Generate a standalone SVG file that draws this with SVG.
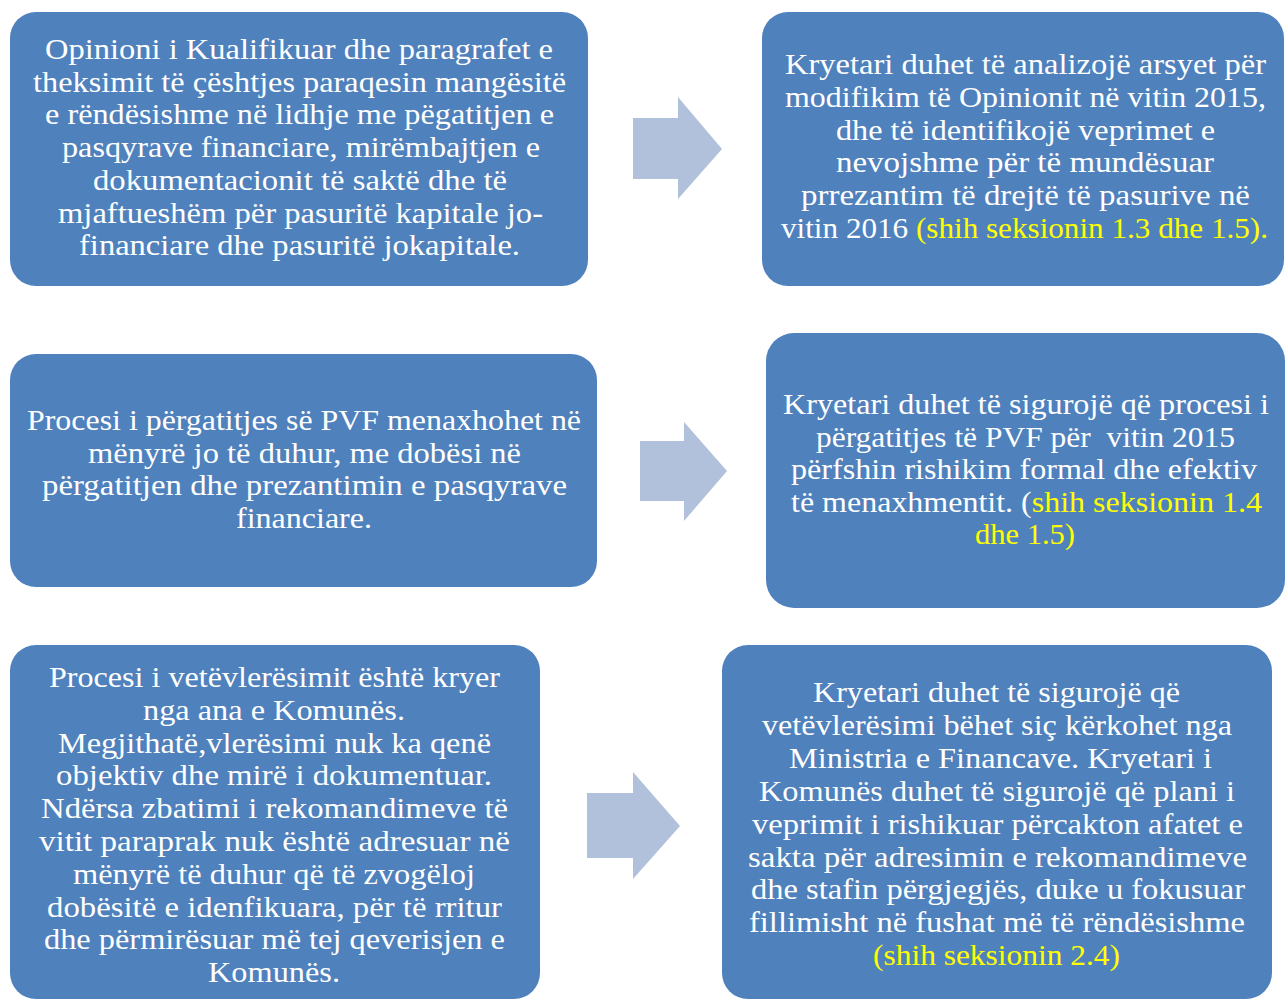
<svg xmlns="http://www.w3.org/2000/svg" width="1285" height="1000" viewBox="0 0 1285 1000">
<style>
.box{fill:#4F81BD}
.arrow{fill:#B1C1DC}
.t{font-family:"Liberation Serif","Times New Roman",serif;font-size:29px;fill:#FFFFFF}
.y{fill:#FFFF00}
.pre{white-space:pre}
</style>
<rect width="1285" height="1000" fill="#FFFFFF"/>
<g id="connectors">
<polygon class="arrow" points="633,118 678,118 678,97 722,149 678,199 678,179 633,179"/>
<polygon class="arrow" points="640,441 684,441 684,422 727,471 684,521 684,501 640,501"/>
<polygon class="arrow" points="587,793 633,793 633,772 680,826 633,879 633,858 587,858"/>
</g>
<g id="node1">
<rect class="box" x="10" y="12" width="578" height="274" rx="26"/>
<text class="t" x="45" y="59" textLength="508" lengthAdjust="spacingAndGlyphs">Opinioni i Kualifikuar dhe paragrafet e</text>
<text class="t" x="33" y="91.7" textLength="533" lengthAdjust="spacingAndGlyphs">theksimit të çështjes paraqesin mangësitë</text>
<text class="t" x="45" y="124.4" textLength="509" lengthAdjust="spacingAndGlyphs">e rëndësishme në lidhje me pëgatitjen e</text>
<text class="t" x="62" y="157.1" textLength="478" lengthAdjust="spacingAndGlyphs">pasqyrave financiare, mirëmbajtjen e</text>
<text class="t" x="93" y="189.8" textLength="414" lengthAdjust="spacingAndGlyphs">dokumentacionit të saktë dhe të</text>
<text class="t" x="58" y="222.5" textLength="485" lengthAdjust="spacingAndGlyphs">mjaftueshëm për pasuritë kapitale jo-</text>
<text class="t" x="79" y="255.2" textLength="441" lengthAdjust="spacingAndGlyphs">financiare dhe pasuritë jokapitale.</text>
</g>
<g id="node2">
<rect class="box" x="762" y="12" width="522" height="274" rx="26"/>
<text class="t" x="785" y="74" textLength="481" lengthAdjust="spacingAndGlyphs">Kryetari duhet të analizojë arsyet për</text>
<text class="t" x="785" y="106.8" textLength="481" lengthAdjust="spacingAndGlyphs">modifikim të Opinionit në vitin 2015,</text>
<text class="t" x="836" y="139.6" textLength="379" lengthAdjust="spacingAndGlyphs">dhe të identifikojë veprimet e</text>
<text class="t" x="836" y="172.4" textLength="378" lengthAdjust="spacingAndGlyphs">nevojshme për të mundësuar</text>
<text class="t" x="801" y="205.2" textLength="449" lengthAdjust="spacingAndGlyphs">prrezantim të drejtë të pasurive në</text>
<text class="t" x="781" y="238" textLength="487" lengthAdjust="spacingAndGlyphs">vitin 2016 <tspan class="y">(shih seksionin 1.3 dhe 1.5).</tspan></text>
</g>
<g id="node3">
<rect class="box" x="10" y="354" width="587" height="233" rx="26"/>
<text class="t" x="27" y="430" textLength="554" lengthAdjust="spacingAndGlyphs">Procesi i përgatitjes së PVF menaxhohet në</text>
<text class="t" x="88" y="462.7" textLength="433" lengthAdjust="spacingAndGlyphs">mënyrë jo të duhur, me dobësi në</text>
<text class="t" x="42" y="495.4" textLength="525" lengthAdjust="spacingAndGlyphs">përgatitjen dhe prezantimin e pasqyrave</text>
<text class="t" x="236" y="528.1" textLength="136" lengthAdjust="spacingAndGlyphs">financiare.</text>
</g>
<g id="node4">
<rect class="box" x="766" y="333" width="519" height="275" rx="28"/>
<text class="t" x="783" y="414" textLength="486" lengthAdjust="spacingAndGlyphs">Kryetari duhet të sigurojë që procesi i</text>
<text class="t pre" x="816" y="446.5" textLength="419" lengthAdjust="spacingAndGlyphs">përgatitjes të PVF për  vitin 2015</text>
<text class="t" x="791" y="479" textLength="466" lengthAdjust="spacingAndGlyphs">përfshin rishikim formal dhe efektiv</text>
<text class="t" x="791" y="511.5" textLength="471" lengthAdjust="spacingAndGlyphs">të menaxhmentit. (<tspan class="y">shih seksionin 1.4</tspan></text>
<text class="t y" x="975" y="544" textLength="100" lengthAdjust="spacingAndGlyphs">dhe 1.5)</text>
</g>
<g id="node5">
<rect class="box" x="10" y="645" width="530" height="354" rx="26"/>
<text class="t" x="49" y="687" textLength="451" lengthAdjust="spacingAndGlyphs">Procesi i vetëvlerësimit është kryer</text>
<text class="t" x="143" y="719.8" textLength="262" lengthAdjust="spacingAndGlyphs">nga ana e Komunës.</text>
<text class="t" x="58" y="752.6" textLength="433" lengthAdjust="spacingAndGlyphs">Megjithatë,vlerësimi nuk ka qenë</text>
<text class="t" x="56" y="785.4" textLength="436" lengthAdjust="spacingAndGlyphs">objektiv dhe mirë i dokumentuar.</text>
<text class="t" x="41" y="818.2" textLength="467" lengthAdjust="spacingAndGlyphs">Ndërsa zbatimi i rekomandimeve të</text>
<text class="t" x="39" y="851" textLength="471" lengthAdjust="spacingAndGlyphs">vitit paraprak nuk është adresuar në</text>
<text class="t" x="73" y="883.8" textLength="402" lengthAdjust="spacingAndGlyphs">mënyrë të duhur që të zvogëloj</text>
<text class="t" x="47" y="916.6" textLength="455" lengthAdjust="spacingAndGlyphs">dobësitë e idenfikuara, për të rritur</text>
<text class="t" x="44" y="949.4" textLength="461" lengthAdjust="spacingAndGlyphs">dhe përmirësuar më tej qeverisjen e</text>
<text class="t" x="208" y="982.2" textLength="132" lengthAdjust="spacingAndGlyphs">Komunës.</text>
</g>
<g id="node6">
<rect class="box" x="722" y="645" width="550" height="354" rx="26"/>
<text class="t" x="813" y="702" textLength="367" lengthAdjust="spacingAndGlyphs">Kryetari duhet të sigurojë që</text>
<text class="t" x="762" y="734.9" textLength="470" lengthAdjust="spacingAndGlyphs">vetëvlerësimi bëhet siç kërkohet nga</text>
<text class="t" x="789" y="767.8" textLength="423" lengthAdjust="spacingAndGlyphs">Ministria e Financave. Kryetari i</text>
<text class="t" x="759" y="800.7" textLength="476" lengthAdjust="spacingAndGlyphs">Komunës duhet të sigurojë që plani i</text>
<text class="t" x="752" y="833.6" textLength="491" lengthAdjust="spacingAndGlyphs">veprimit i rishikuar përcakton afatet e</text>
<text class="t" x="748" y="866.5" textLength="499" lengthAdjust="spacingAndGlyphs">sakta për adresimin e rekomandimeve</text>
<text class="t" x="751" y="899.4" textLength="494" lengthAdjust="spacingAndGlyphs">dhe stafin përgjegjës, duke u fokusuar</text>
<text class="t" x="749" y="932.3" textLength="496" lengthAdjust="spacingAndGlyphs">fillimisht në fushat më të rëndësishme</text>
<text class="t y" x="873" y="965.2" textLength="247" lengthAdjust="spacingAndGlyphs">(shih seksionin 2.4)</text>
</g>
</svg>
